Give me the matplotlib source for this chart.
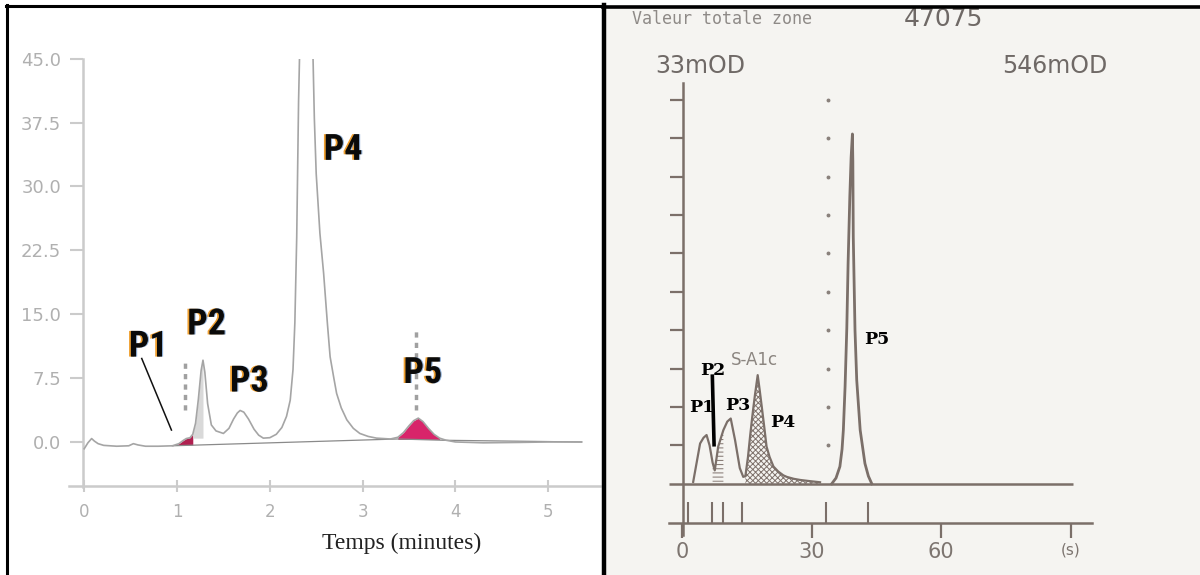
import numpy as np
import matplotlib
matplotlib.use("Agg")
import matplotlib.pyplot as plt
from matplotlib.lines import Line2D
from matplotlib.patches import Rectangle
import matplotlib.patheffects as pe

plt.rcParams['hatch.linewidth'] = 0.7

# ---------------- left chromatogram (HPLC) ----------------
left_time = [0.00, 0.04, 0.08, 0.11, 0.15, 0.21, 0.35, 0.48, 0.53, 0.58, 0.66, 0.80, 0.95,
             1.02, 1.07, 1.10, 1.14, 1.17, 1.20, 1.23, 1.26, 1.28, 1.30, 1.33, 1.37, 1.42,
             1.50, 1.56, 1.61, 1.65, 1.68, 1.72, 1.77, 1.83, 1.88, 1.93, 2.00, 2.07, 2.13,
             2.18, 2.22, 2.25, 2.27, 2.29, 2.31, 2.39, 2.46, 2.48, 2.50, 2.54, 2.58, 2.62,
             2.65, 2.69, 2.72, 2.77, 2.83, 2.90, 2.97, 3.06, 3.15, 3.30, 3.38, 3.44, 3.50,
             3.55, 3.60, 3.65, 3.71, 3.77, 3.83, 3.90, 4.00, 4.30, 4.70, 5.00, 5.36]
left_signal = [-0.8, -0.1, 0.4, 0.1, -0.2, -0.4, -0.5, -0.45, -0.2, -0.35, -0.5, -0.5, -0.45,
               -0.2, 0.2, 0.4, 0.5, 0.9, 2.2, 5.0, 8.4, 9.6, 8.2, 4.5, 2.0, 1.3,
               1.0, 1.6, 2.7, 3.4, 3.7, 3.5, 2.7, 1.5, 0.8, 0.45, 0.5, 0.9, 1.7,
               3.0, 4.9, 8.5, 14.0, 24.0, 40.0, 80.0, 48.0, 38.0, 31.5, 24.5, 19.8, 14.0,
               10.0, 7.5, 5.7, 4.0, 2.6, 1.6, 1.0, 0.65, 0.45, 0.35, 0.55, 1.1, 1.9,
               2.5, 2.8, 2.4, 1.6, 0.9, 0.45, 0.2, 0.0, -0.1, -0.05, 0.0, 0.0]
left_baseline_time = [0.95, 3.38, 3.87, 5.36]
left_baseline_value = [-0.45, 0.35, 0.2, 0.0]
left_yticks = [0.0, 7.5, 15.0, 22.5, 30.0, 37.5, 45.0]
left_ytick_labels = ["0.0", "7.5", "15.0", "22.5", "30.0", "37.5", "45.0"]
left_xticks = [0, 1, 2, 3, 4, 5]
left_xtick_labels = ["0", "1", "2", "3", "4", "5"]
left_xlabel = "Temps (minutes)"
left_peak_labels = ["P1", "P2", "P3", "P4", "P5"]
left_label_time = [0.69, 1.32, 1.78, 2.79, 3.65]
left_label_value = [11.2, 13.8, 7.1, 34.3, 8.1]
left_p1_pointer_time = [0.62, 0.94]
left_p1_pointer_value = [9.8, 1.4]
left_rt_mark_time = [1.09, 3.58]
left_rt_mark_low = [3.8, 3.7]
left_rt_mark_high = [9.6, 13.5]

# ---------------- right chromatogram (electrophoresis) ----------------
right_time = [2.5, 3.3, 4.1, 4.9, 5.6, 6.3, 7.0, 7.5, 8.3, 9.5, 10.4, 11.2, 12.2, 13.3,
              14.1, 14.6, 15.2, 15.7, 16.3, 16.8, 17.45, 17.9, 18.4, 19.0, 19.5, 20.2,
              21.1, 22.2, 23.4, 24.2, 25.8, 27.3, 29.5, 31.9]
right_signal = [0.05, 0.55, 1.05, 1.2, 1.27, 1.0, 0.55, 0.35, 0.97, 1.4, 1.62, 1.7, 1.14, 0.41,
                0.18, 0.2, 0.7, 1.25, 1.85, 2.3, 2.83, 2.45, 2.0, 1.45, 0.97, 0.7,
                0.45, 0.32, 0.22, 0.18, 0.13, 0.1, 0.07, 0.04]
right_p5_time = [34.6, 35.6, 36.5, 37.0, 37.3, 37.7, 38.1, 38.4, 38.8, 39.1, 39.4, 39.5,
                 39.6, 40.0, 40.4, 41.2, 42.3, 43.1, 43.9]
right_p5_signal = [0.0, 0.15, 0.45, 0.9, 1.4, 2.53, 4.05, 5.74, 7.48, 8.5, 9.11, 8.4,
                   6.43, 4.0, 2.7, 1.4, 0.53, 0.2, 0.0]
right_yticks = [1, 2, 3, 4, 5, 6, 7, 8, 9, 10]
right_xticks = [0, 30, 60, 90]
right_xtick_labels = ["0", "30", "60", "(s)"]
right_cut_marks = [1.2, 6.9, 9.4, 13.8, 33.3, 43.1]
right_dot_time = 33.8
right_peak_labels = ["P1", "P2", "P3", "P4", "P5"]
right_label_time = [4.47, 6.98, 12.8, 23.2, 45.1]
right_label_value = [1.99, 2.96, 2.03, 1.6, 3.77]
right_p2_marker_time = [6.93, 7.35]
right_p2_marker_value = [2.85, 0.97]
right_header_left = "Valeur totale zone"
right_header_total = "47075"
right_scale_left = "33mOD"
right_scale_right = "546mOD"
right_peak_name = "S-A1c"

W, H = 1200, 575
fig = plt.figure(figsize=(12, 5.75), dpi=100)
fig.patch.set_facecolor('white')


def fx(px):
    return px / W


def fy(py):
    return 1 - py / H


# background of right panel (scanned paper)
fig.add_artist(Rectangle((fx(605), 0), 1 - fx(605), fy(6), transform=fig.transFigure,
                         facecolor='#f5f4f1', edgecolor='none', zorder=0))

# ================= LEFT AXES =================
axL = fig.add_axes([fx(69), fy(486), fx(600) - fx(69), fy(58.7) - fy(486)])
axL.set_xlim((69 - 84.2) / 92.8, (600 - 84.2) / 92.8)
axL.set_ylim(-5.17, 45.0)
axL.patch.set_alpha(0)
for s in ['top', 'right']:
    axL.spines[s].set_visible(False)
gcol = '#cbcbcb'
axL.spines['left'].set_position(('data', -0.018))
axL.spines['left'].set_bounds(-5.3, 45.0)
for s in ['left', 'bottom']:
    axL.spines[s].set_color(gcol)
    axL.spines[s].set_linewidth(1.8)
axL.set_yticks(left_yticks)
axL.set_yticklabels(left_ytick_labels)
axL.set_xticks(left_xticks)
axL.set_xticklabels(left_xtick_labels)
axL.tick_params(axis='y', direction='out', length=9.5, width=1.5, color=gcol,
                labelcolor='#b0b0b0', labelsize=13, pad=6)
axL.tick_params(axis='x', direction='inout', length=8, width=1.5, color=gcol,
                labelcolor='#b0b0b0', labelsize=12, pad=8)

# baseline drop line
axL.plot(left_baseline_time, left_baseline_value, color='#8a8a8a', lw=0.9, zorder=2)
# fills
t = np.array(left_time)
sig = np.array(left_signal)
axL.fill_between(t, sig, -0.35, where=(t >= 0.95) & (t <= 1.17), color='#b02050',
                 lw=0, zorder=1, interpolate=True)
axL.fill_between(t, sig, 0.45, where=(t >= 1.17) & (t <= 1.28), color='#d9d9d9',
                 lw=0, zorder=1)
axL.fill_between(t, sig, 0.3, where=(t >= 3.38) & (t <= 3.83), color='#d8246a',
                 lw=0, zorder=1)
axL.plot(left_time, left_signal, color='#a5a5a5', lw=1.2, zorder=3)

# retention-time marks
for x0, lo, hi in zip(left_rt_mark_time, left_rt_mark_low, left_rt_mark_high):
    axL.plot([x0, x0], [lo, hi], color='#a0a0a0', lw=2.5, ls=(0, (1.5, 1.5)), zorder=3)

axL.plot(left_p1_pointer_time, left_p1_pointer_value, color='#111111', lw=1.1, zorder=4)

shadow = [pe.SimplePatchShadow(offset=(-1.3, 0), shadow_rgbFace='#f0a030', alpha=1.0),
          pe.SimplePatchShadow(offset=(0.8, 0), shadow_rgbFace='#4a7fc0', alpha=0.6),
          pe.Normal()]
for lab, x0, y0 in zip(left_peak_labels, left_label_time, left_label_value):
    axL.text(x0, y0, lab, ha='center', va='center', fontsize=26, fontweight='bold',
             family=['Roboto Condensed', 'Liberation Sans Narrow', 'Roboto', 'DejaVu Sans'],
             color='#0a0a0a', path_effects=shadow, zorder=5)

fig.text(fx(402), fy(543), left_xlabel, ha='center', va='center', fontsize=17,
         family=['Liberation Serif', 'DejaVu Serif'], color='#222222')

# ================= RIGHT AXES =================
axR = fig.add_axes([fx(660), fy(545), fx(1100) - fx(660), fy(80) - fy(545)])
axR.set_xlim((660 - 682.4) / 4.315, (1100 - 682.4) / 4.315)
axR.set_ylim((483.8 - 545) / 38.4, (483.8 - 80) / 38.4)
axR.patch.set_alpha(0)
bcol = '#7b6f69'
for s in ['top', 'right']:
    axR.spines[s].set_visible(False)
axR.spines['left'].set_position(('data', 0.23))
axR.spines['left'].set_bounds(-1.33, 10.45)
axR.spines['bottom'].set_position(('data', -1.02))
axR.spines['bottom'].set_bounds(-3.1, 94.9)
for s in ['left', 'bottom']:
    axR.spines[s].set_color(bcol)
    axR.spines[s].set_linewidth(1.8)
axR.set_yticks(right_yticks)
axR.set_yticklabels([])
axR.set_xticks(right_xticks)
axR.set_xticklabels(right_xtick_labels)
axR.tick_params(axis='y', direction='out', length=9.2, width=1.6, color=bcol)
axR.tick_params(axis='x', direction='out', length=11, width=1.6, color=bcol,
                labelcolor='#7d7570', labelsize=15, pad=3)
lbls = axR.get_xticklabels()
lbls[-1].set_fontsize(11)

axR.hlines(0, -3.1, 90.5, color=bcol, lw=1.8, zorder=2)
axR.vlines(right_cut_marks, -1.02, -0.47, color=bcol, lw=1.5)
axR.plot([right_dot_time] * len(right_yticks), right_yticks, 'o', ms=1.8, color='#8a817c',
         ls='none')

rt = np.array(right_time)
rs = np.array(right_signal)
axR.fill_between(rt, rs, 0, where=(rt >= 14.6) & (rt <= 31.9), facecolor='none',
                 edgecolor='#7f726c', hatch='xxxxxx', lw=0, zorder=1)
axR.fill_between(rt, rs, 0.05, where=(rt >= 7.0) & (rt <= 9.5), facecolor='none',
                 edgecolor='#7f726c', hatch='----', lw=0, zorder=1)
axR.plot(right_time, right_signal, color=bcol, lw=1.6, zorder=3)
axR.plot(right_p5_time, right_p5_signal, color=bcol, lw=2.0, zorder=3)

axR.plot(right_p2_marker_time, right_p2_marker_value, color='black', lw=2.6, zorder=4,
         solid_capstyle='butt')

for lab, x0, y0 in zip(right_peak_labels, right_label_time, right_label_value):
    axR.text(x0, y0, lab, ha='center', va='center', fontsize=12.5, fontweight='bold',
             family='DejaVu Serif', color='black', zorder=5)
axR.text(16.8, 3.22, right_peak_name, ha='center', va='center', fontsize=12,
         color='#8b8580', family='DejaVu Sans')

fig.text(fx(632), fy(18.5), right_header_left, ha='left', va='center', fontsize=12,
         family='DejaVu Sans Mono', color='#8e8a87')
fig.text(fx(904), fy(18.5), right_header_total, ha='left', va='center', fontsize=18,
         family='DejaVu Sans', color='#6f6966')
fig.text(fx(655), fy(66), right_scale_left, ha='left', va='center', fontsize=17,
         family='DejaVu Sans', color='#6f6966')
fig.text(fx(1107), fy(66), right_scale_right, ha='right', va='center', fontsize=17,
         family='DejaVu Sans', color='#6f6966')

# ================= panel borders =================
for (xs, ys, lw) in [([7, 7], [575, 4.5], 2.2),
                     ([6, 604], [5.5, 5.5], 2.2),
                     ([604, 604], [4.5, 575], 3.2),
                     ([603, 1200], [6.5, 6.5], 2.6)]:
    fig.add_artist(Line2D([fx(v) for v in xs], [fy(v) for v in ys],
                          transform=fig.transFigure, color='black', lw=lw, zorder=10))

fig.savefig('out.png', dpi=100)
